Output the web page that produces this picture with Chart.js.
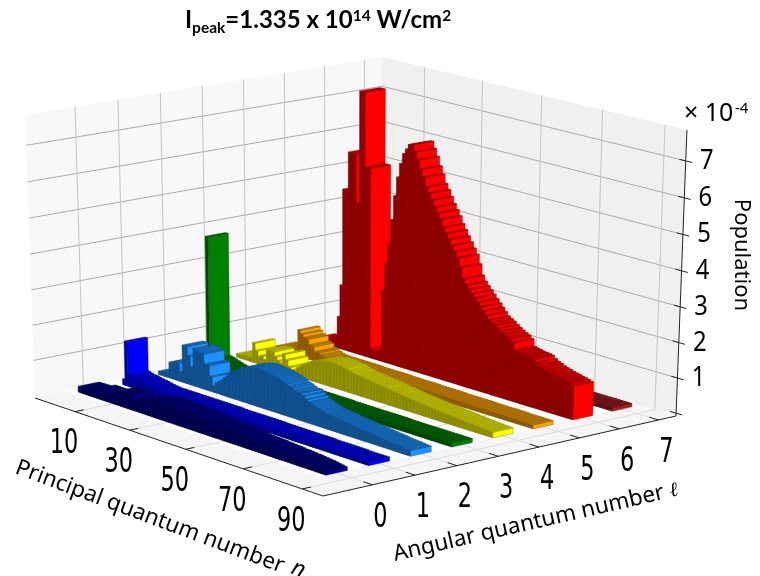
<!DOCTYPE html>
<html>
<head>
<meta charset="utf-8">
<title>Population 3D bars</title>
<script src="https://cdn.jsdelivr.net/npm/chart.js@4"></script>
<style>
  html, body { margin: 0; padding: 0; background: #fff; }
  canvas { display: block; }
</style>
</head>
<body>
<canvas id="myChart" width="760" height="576"></canvas>
<script>
// Tick labels
const nTicks = [10, 30, 50, 70, 90];
const lTicks = [0, 1, 2, 3, 4, 5, 6, 7];
const zTicks = [1, 2, 3, 4, 5, 6, 7];

// Row colours, one per angular quantum number
const rowColors = [[0, 0, 140], [0, 0, 255], [30, 144, 255], [0, 128, 0], [255, 255, 0], [255, 165, 0], [255, 0, 0], [165, 32, 36]];

// Population (units of 1e-4), bars 1..90 of each row
const popL0 = [0,0,.09,.09,.1,.1,.1,.09,.16,.16,.16,.16,.16,.16,.16,.26,.28,.3,.32,.34,.34,.34,.26,.22,.22,.3,.32,.34,.36,.38,.4,.41,.42,.43,.43,.43,.43,.42,.42,.42,.41,.41,.4,.4,.39,.38,.37,.36,.35,.34,.33,.32,.31,.3,.29,.28,.27,.27,.26,.25,.25,.24,.24,.23,.22,.22,.21,.21,.2,.2,.19,.19,.18,.17,.17,.16,.15,.15,.14,.13,.12,.12,.11,.1,.09,.08,.07,.05,.04,.02];
const popL1 = [0,0,0,.08,1.2,.25,.22,.2,.2,.18,.16,.15,.14,.12,.1,.09,.08,.07,.07,.07,.07,.07,.07,.07,.07,.07,.07,.07,.07,.07,.07,.07,.07,.07,.07,.07,.07,.07,.07,.07,.06,.06,.06,.06,.06,.06,.06,.06,.06,.06,.06,.06,.06,.06,.06,.05,.05,.05,.05,.05,.05,.05,.05,.05,.05,.05,.05,.05,.05,.05,.05,.05,.04,.04,.04,.04,.04,.04,.04,.04,.04,.04,.04,.03,.03,.03,.03,.03,.03,.03];
const popL2 = [0,.02,.03,.05,.05,.38,.4,.45,.45,.2,1,1,.75,.45,1,.98,.95,.93,.65,.65,.35,.1,.22,.28,.35,.44,.52,.61,.68,.74,.8,.85,.9,.94,.97,1,1.01,1.02,1.01,1,.99,.98,.97,.95,.93,.9,.87,.84,.8,.77,.73,.7,.7,.65,.58,.52,.49,.46,.43,.4,.38,.36,.35,.34,.33,.32,.3,.29,.28,.27,.26,.25,.24,.23,.22,.21,.2,.19,.18,.17,.16,.15,.14,.13,.12,.11,.11,.1,.09,.08];
const popL3 = [.02,.02,.02,.02,3.75,.22,.2,.18,.15,.12,.1,.08,.05,.05,.05,.05,.05,.05,.05,.05,.05,.05,.05,.05,.05,.05,.05,.05,.05,.05,.05,.05,.05,.05,.05,.05,.05,.05,.05,.05,.05,.05,.05,.05,.05,.05,.05,.05,.05,.05,.04,.04,.04,.04,.04,.04,.04,.04,.04,.04,.04,.04,.04,.04,.04,.04,.04,.04,.04,.04,.03,.03,.03,.03,.03,.03,.03,.03,.03,.03,.03,.03,.03,.03,.03,.03,.03,.03,.03,.03];
const popL4 = [.03,.03,.03,.05,.05,.06,.5,.3,.15,.2,.1,.42,.42,.42,.3,.2,.15,.45,.3,.12,.05,.05,.17,.24,.3,.36,.42,.47,.51,.54,.57,.6,.61,.63,.63,.63,.62,.61,.6,.59,.56,.54,.52,.5,.49,.48,.47,.46,.45,.44,.43,.42,.41,.4,.38,.37,.36,.35,.33,.32,.31,.3,.29,.28,.27,.26,.25,.24,.23,.22,.21,.2,.2,.19,.18,.18,.17,.16,.15,.14,.14,.13,.12,.12,.11,.1,.1,.09,.09,.08];
const popL5 = [.02,.02,.03,.03,.04,.05,.06,.08,.69,.6,.52,.5,.35,.33,.2,.2,.15,.12,.1,.09,.09,.09,.09,.09,.09,.09,.09,.09,.09,.09,.09,.09,.08,.08,.08,.08,.08,.08,.08,.08,.08,.08,.07,.07,.07,.07,.07,.07,.07,.07,.07,.07,.06,.06,.06,.06,.06,.06,.06,.06,.06,.05,.05,.05,.05,.05,.05,.05,.05,.05,.05,.04,.04,.04,.04,.04,.04,.04,.04,.04,.04,.04,.03,.03,.03,.03,.03,.03,.03,.03];
const popL6 = [.03,.03,.03,.05,.05,.1,.15,.2,.85,1.8,4.6,4.6,5.7,5.7,5.7,4.3,7.5,7.5,5.4,5.4,.2,.15,.15,.2,2,2.8,3.4,4.1,4.8,5.35,5.75,6.05,6.2,6.35,6.38,6.2,6,5.75,5.55,5.3,5.15,4.98,4.8,4.65,4.5,4.3,4.15,4,3.85,3.7,3.55,3.3,3,2.85,2.75,2.65,2.55,2.45,2.35,2.25,2.15,2.05,2,1.95,1.88,1.82,1.77,1.72,1.68,1.6,1.4,1.38,1.36,1.34,1.33,1.32,1.3,1.23,1.18,1.14,1.1,1.07,1.05,1.02,1,.98,.96,.94,.92,.88];
const popL7 = [.02,.02,.02,.02,.02,.02,.02,.02,.02,.02,.02,.02,.02,.02,.02,.02,.02,.02,.02,.02,.02,.02,.02,.02,.02,.02,.02,.02,.02,.02,.02,.02,.02,.02,.02,.02,.02,.02,.02,.02,.02,.02,.02,.02,.02,.02,.02,.02,.02,.02,.02,.02,.02,.02,.02,.02,.02,.02,.02,.02,.02,.02,.02,.02,.02,.02,.02,.02,.02,.02,.02,.02,.02,.02,.02,.02,.02,.02,.02,.02,.02,.02,.02,.02,.02,.02,.02,.02,.02,.02];
const rows = [popL0, popL1, popL2, popL3, popL4, popL5, popL6, popL7];

// Axis limits. Bars sit on index 1..90, the n tick labels are shifted from the index
const nMin = 0.5, nMax = 102.4, nTickShift = 5.5;
const lMin = -1.15, lMax = 7.45;
const zMin = -0.08, zMax = 7.83;
const barWidthL = 0.5;

// Camera: images of the front floor corner, left and right floor corners, vertical vanishing point
const cam = { o: [323, 496], left: [35, 398], right: [676, 416], up: [342, 9150], wLeft: 1.0686, wRight: 1.0567, wUp: -0.0335 };

function project(chart, n, l, z) {
  const sx = chart.scales.x, sy = chart.scales.y, sl = chart.scales.l;
  // fractions come from the chart scales: a = 1 at the left wall, b = 1 at the right wall
  const a = 1 - (sx.getPixelForValue(n) - sx.left) / sx.width;
  const b = (sl.getPixelForValue(l) - sl.left) / sl.width;
  const c = (sy.bottom - sy.getPixelForValue(z)) / sy.height;
  const den = 1 + a * (cam.wLeft - 1) + b * (cam.wRight - 1) + c * cam.wUp;
  const px = cam.o[0] + a * (cam.wLeft * cam.left[0] - cam.o[0]) + b * (cam.wRight * cam.right[0] - cam.o[0]) + c * cam.wUp * cam.up[0];
  const py = cam.o[1] + a * (cam.wLeft * cam.left[1] - cam.o[1]) + b * (cam.wRight * cam.right[1] - cam.o[1]) + c * cam.wUp * cam.up[1];
  return [px / den, py / den];
}

function shade(c, f) {
  return "rgb(" + Math.round(c[0] * f) + "," + Math.round(c[1] * f) + "," + Math.round(c[2] * f) + ")";
}

function poly(ctx, pts, fill, stroke, lw) {
  ctx.beginPath();
  pts.forEach((p, i) => (i ? ctx.lineTo(p[0], p[1]) : ctx.moveTo(p[0], p[1])));
  ctx.closePath();
  if (fill) { ctx.fillStyle = fill; ctx.fill(); }
  if (stroke) { ctx.strokeStyle = stroke; ctx.lineWidth = lw; ctx.stroke(); }
}

function line(ctx, p, q, color, lw) {
  ctx.beginPath();
  ctx.moveTo(p[0], p[1]);
  ctx.lineTo(q[0], q[1]);
  ctx.strokeStyle = color;
  ctx.lineWidth = lw;
  ctx.stroke();
}

function text(ctx, str, x, y, font, angle, scaleX) {
  ctx.save();
  ctx.translate(x, y);
  if (angle) ctx.rotate(angle * Math.PI / 180);
  if (scaleX) ctx.scale(scaleX, 1);
  ctx.font = font;
  ctx.fillStyle = "#000";
  ctx.fillText(str, 0, 0);
  ctx.restore();
}

function drawBox(chart, ctx) {
  const P = (n, l, z) => project(chart, n, l, z);
  // walls and floor
  poly(ctx, [P(nMin, lMin, zMin), P(nMin, lMax, zMin), P(nMin, lMax, zMax), P(nMin, lMin, zMax)], "#f8f8f8");
  poly(ctx, [P(nMin, lMax, zMin), P(nMax, lMax, zMin), P(nMax, lMax, zMax), P(nMin, lMax, zMax)], "#f0f0f0");
  poly(ctx, [P(nMin, lMin, zMin), P(nMax, lMin, zMin), P(nMax, lMax, zMin), P(nMin, lMax, zMin)], "#f5f5f5");
  // white plate under the rows
  poly(ctx, [P(nMin, -0.4, zMin), P(90.5, -0.4, zMin), P(90.5, 7.3, zMin), P(nMin, 7.3, zMin)], "#fff");

  // grid
  zTicks.forEach((z) => {
    line(ctx, P(nMin, lMin, z), P(nMin, lMax, z), "#ababab", 1);
    line(ctx, P(nMin, lMax, z), P(nMax, lMax, z), "#ababab", 1);
  });
  lTicks.forEach((l) => {
    line(ctx, P(nMin, l, zMin), P(nMin, l, zMax), "#c4c4c4", 1);
    line(ctx, P(nMin, l, zMin), P(nMax, l, zMin), "#dcdcdc", 1);
  });
  nTicks.forEach((t) => {
    const n = t + nTickShift;
    line(ctx, P(n, lMax, zMin), P(n, lMax, zMax), "#c4c4c4", 1);
    line(ctx, P(n, lMin, zMin), P(n, lMax, zMin), "#dcdcdc", 1);
  });
}

function drawAxes(chart, ctx) {
  const P = (n, l, z) => project(chart, n, l, z);
  line(ctx, P(nMin, lMin, zMin), P(nMax, lMin, zMin), "#222", 1);
  line(ctx, P(nMax, lMin, zMin), P(nMax, lMax, zMin), "#222", 1);
  line(ctx, P(nMax, lMax, zMin), P(nMax, lMax, zMax), "#222", 1);

  ctx.textAlign = "center";
  ctx.textBaseline = "middle";
  const tickFont = "34px 'DejaVu Sans'";
  nTicks.forEach((t) => {
    const n = t + nTickShift;
    line(ctx, P(n, lMin, zMin), P(n, lMin + 0.2, zMin), "#222", 1);
    const p = P(n, lMin, zMin);
    text(ctx, String(t), p[0] - 11, p[1] + 33, tickFont, 0, 0.66);
  });
  lTicks.forEach((t) => {
    line(ctx, P(nMax, t, zMin), P(nMax - 3, t, zMin), "#222", 1);
    const p = P(nMax, t, zMin);
    text(ctx, String(t), p[0] + 8, p[1] + 33, tickFont, 0, 0.66);
  });
  [0].concat(zTicks).forEach((z) => {
    line(ctx, P(nMax - 2, lMax, z), P(nMax + 2, lMax, z), "#222", 1);
  });
  zTicks.forEach((z) => {
    const p = P(nMax, lMax, z);
    text(ctx, String(z), p[0] + 21, p[1], "28px 'Noto Sans'", 0, 0.85);
  });

  // axis titles
  ctx.textAlign = "left";
  ctx.textBaseline = "alphabetic";
  text(ctx, "× 10", 684, 121, "25px 'Noto Sans'");
  text(ctx, "-4", 735, 113, "15px 'Noto Sans'");
  ctx.textAlign = "center";
  text(ctx, "Population", 735, 255, "22px 'Noto Sans'", 90);
  ctx.textAlign = "left";
  text(ctx, "Principal quantum number", 14, 473, "22.5px 'Noto Sans'", 20.5);
  text(ctx, "n", 290, 573, "italic 22.5px 'Noto Sans'", 20.5);
  text(ctx, "Angular quantum number", 395, 561, "22.5px 'Noto Sans'", -13);
  text(ctx, "ℓ", 671, 497, "italic 20px 'DejaVu Serif'", -13);

  // title with sub and superscripts
  const bold = "bold 24px Lato", small = "bold 15.5px Lato";
  const parts = [["I", bold, 28], ["peak", small, 33], ["=1.335 x 10", bold, 28], ["14", small, 21], [" W/cm", bold, 28], ["2", small, 21]];
  let x = 185;
  parts.forEach((part) => {
    ctx.font = part[1];
    ctx.fillStyle = "#000";
    ctx.fillText(part[0], x, part[2]);
    x += ctx.measureText(part[0]).width;
  });
}

function drawBars(chart, ctx) {
  const P = (n, l, z) => project(chart, n, l, z);
  // back rows first, low n first, so nearer bars paint over
  for (let d = chart.data.datasets.length - 1; d >= 0; d--) {
    const set = chart.data.datasets[d];
    const c = rowColors[set.lValue];
    const l0 = set.lValue - barWidthL / 2, l1 = set.lValue + barWidthL / 2;
    const edge = shade(c, 0.5);
    set.data.forEach((pt) => {
      if (pt.y <= 0) return;
      const n0 = pt.x - 0.5, n1 = pt.x + 0.5, z = pt.y;
      // side facing low l
      poly(ctx, [P(n0, l0, zMin), P(n1, l0, zMin), P(n1, l0, z), P(n0, l0, z)], shade(c, 0.55), edge, 0.4);
      // end facing high n
      poly(ctx, [P(n1, l0, zMin), P(n1, l1, zMin), P(n1, l1, z), P(n1, l0, z)], shade(c, 1), edge, 0.4);
      // top
      poly(ctx, [P(n0, l0, z), P(n1, l0, z), P(n1, l1, z), P(n0, l1, z)], shade(c, 0.75), edge, 0.4);
    });
  }
}

const bars3d = {
  id: "bars3d",
  beforeDatasetsDraw(chart) {
    const ctx = chart.ctx;
    ctx.save();
    drawBox(chart, ctx);
    drawBars(chart, ctx);
    drawAxes(chart, ctx);
    ctx.restore();
  }
};

new Chart(document.getElementById("myChart"), {
  type: "scatter",
  data: {
    datasets: rows.map((vals, l) => ({
      label: "l=" + l,
      lValue: l,
      data: vals.map((v, i) => ({ x: i + 1, y: v })),
      pointRadius: 0,
      showLine: false
    }))
  },
  options: {
    responsive: false,
    animation: false,
    plugins: { legend: { display: false }, tooltip: { enabled: false } },
    scales: {
      x: { type: "linear", min: nMin, max: nMax, display: false },
      y: { type: "linear", min: zMin, max: zMax, display: false },
      l: { type: "linear", axis: "x", min: lMin, max: lMax, display: false }
    }
  },
  plugins: [bars3d]
});
</script>
</body>
</html>
